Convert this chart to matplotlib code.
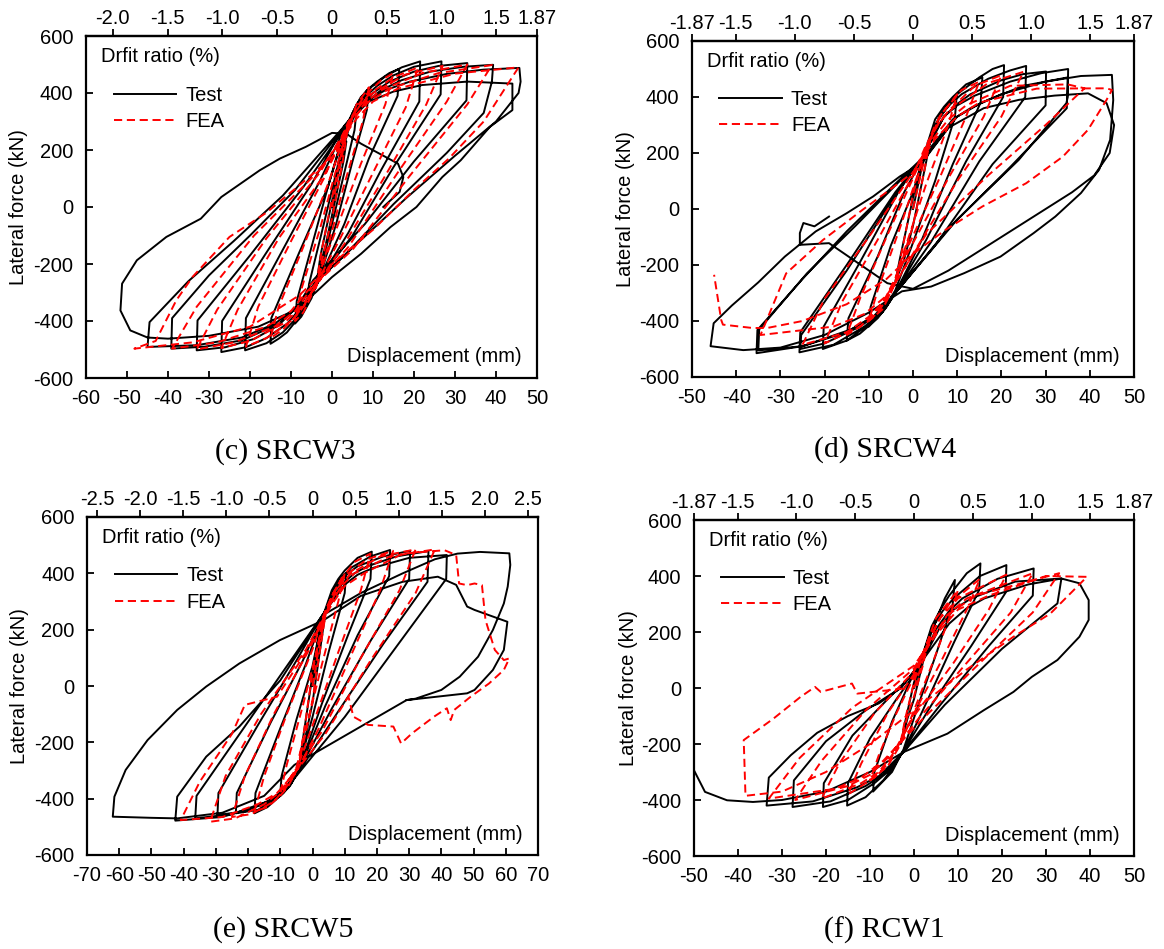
import matplotlib
matplotlib.use('Agg')
import matplotlib.pyplot as plt
from matplotlib.lines import Line2D
import numpy as np

plt.rcParams['font.family'] = ['Liberation Sans', 'DejaVu Sans']
plt.rcParams['axes.unicode_minus'] = False

# ---------------- data (displacement mm, lateral force kN) ----------------
y_ticks = [-600, -400, -200, 0, 200, 400, 600]

c_xticks = [-60, -50, -40, -30, -20, -10, 0, 10, 20, 30, 40, 50]
c_drift = [-2.0, -1.5, -1.0, -0.5, 0, 0.5, 1.0, 1.5, 1.87]
c_drift_labels = ['-2.0', '-1.5', '-1.0', '-0.5', '0', '0.5', '1.0', '1.5', '1.87']

d_xticks = [-50, -40, -30, -20, -10, 0, 10, 20, 30, 40, 50]
d_drift = [-1.87, -1.5, -1.0, -0.5, 0, 0.5, 1.0, 1.5, 1.87]
d_drift_labels = ['-1.87', '-1.5', '-1.0', '-0.5', '0', '0.5', '1.0', '1.5', '1.87']

e_xticks = [-70, -60, -50, -40, -30, -20, -10, 0, 10, 20, 30, 40, 50, 60, 70]
e_drift = [-2.5, -2.0, -1.5, -1.0, -0.5, 0, 0.5, 1.0, 1.5, 2.0, 2.5]
e_drift_labels = ['-2.5', '-2.0', '-1.5', '-1.0', '-0.5', '0', '0.5', '1.0', '1.5', '2.0', '2.5']

f_xticks = d_xticks
f_drift = d_drift
f_drift_labels = d_drift_labels

c_test = [
    (0, 0), (1.5, 120), (3.5, 230), (2.8, 160), (0, -30), (-1.5, -130), (-3.5, -240), (-2.8, -170), (0, 20),
    (2, 170), (4, 270), (6, 340), (5.5, 270), (2, 60), (-1, -120), (-3, -230), (-6, -330), (-5.6, -270), (-2, -60), (1, 120),
    (3, 250), (5, 330), (7, 385), (9, 415), (8.5, 340), (5, 160), (1, -60), (-2, -200), (-5, -320), (-7.5, -385), (-9, -409),
    (-8.6, -330), (-5, -140), (-1, 70), (2, 220),
    (4, 300), (6, 360), (8.5, 410), (11, 440), (14, 470), (16.4, 485), (16, 390), (9, 170), (3, -60), (-3, -250), (-6, -340),
    (-8.5, -395), (-11, -440), (-13, -462), (-15, -480), (-14.8, -390), (-8, -160), (-1, 70), (3, 260),
    (5, 320), (7, 375), (9.5, 420), (13, 458), (17, 490), (21.5, 511), (21.3, 370), (12, 130), (4, -90), (-3, -255), (-6, -330),
    (-9, -395), (-12, -440), (-16, -478), (-21.2, -503), (-21, -390), (-12, -150), (-3, 90), (3, 275),
    (6, 340), (8, 385), (11, 425), (15, 462), (20, 492), (26.7, 511), (26.5, 395), (15, 140), (5, -100), (-3.5, -260),
    (-7, -345), (-11, -410), (-16, -460), (-21, -492), (-27, -509), (-26.8, -400), (-16, -160), (-5, 80), (3, 285),
    (7, 355), (10, 400), (14, 440), (20, 475), (26, 495), (33, 505), (32.8, 374), (20, 160), (8, -60), (-4.6, -257),
    (-8, -340), (-13, -415), (-19, -463), (-26, -492), (-33, -503), (-32.8, -398), (-20, -170), (-7, 70), (4, 295),
    (8, 365), (12, 410), (17, 445), (24, 475), (32, 492), (39.3, 499), (39, 440), (37, 330), (28, 190), (15, 10), (3, -170),
    (-4, -262), (-8, -345), (-13, -410), (-22, -468), (-31, -490), (-39.2, -497), (-39, -390), (-30, -240), (-20, -100),
    (-9, 60), (4, 300),
    (8, 368), (13, 410), (19, 440), (28, 467), (37, 482), (45.7, 488), (46, 440), (45.5, 400), (40, 300), (30, 180), (18, 30),
    (6, -130), (-4, -265), (-8, -345), (-14, -410), (-22, -458), (-33, -485), (-45, -491), (-44.5, -404), (-35, -260),
    (-24, -120), (-12, 40), (4, 300),
    (9, 370), (15, 405), (22, 428), (33, 440), (44, 433), (44, 340), (38.5, 281), (31.4, 164), (26.9, 105), (20.6, 0),
    (14.3, -70), (7.1, -164), (0, -246), (-4, -300), (-9, -362), (-18, -420), (-30, -452), (-40, -462), (-45, -458),
    (-49.2, -433), (-51.6, -363), (-51.2, -269), (-47.6, -187), (-40.4, -105), (-32, -41), (-27, 35), (-21.7, 88),
    (-17.6, 129), (-12.7, 170), (-6.4, 211), (0, 260), (3.5, 257), (7.1, 222), (11.6, 187), (16.1, 152), (17.4, 105),
    (16.5, 53), (12.5, 0),
]

c_fea = [
    (0, 0), (2, 150), (4, 290), (2.5, 150), (0, -40), (-2, -160), (-4, -290), (-2.5, -150), (0, 30),
    (3, 240), (6, 360), (9, 420), (7.5, 300), (3, 80), (-1, -140), (-4, -280), (-7, -370), (-9, -400), (-7.5, -290), (-3, -80), (1, 130),
    (4, 290), (6, 350), (8, 390), (12, 445), (15, 470), (13, 360), (7, 150), (1, -80), (-4, -270), (-6, -330), (-8, -370),
    (-12, -430), (-15, -460), (-13, -350), (-7, -140), (-1, 80),
    (4, 290), (6.5, 350), (9, 395), (15, 455), (21, 490), (18, 350), (10, 120), (2, -110), (-4, -275), (-7, -350),
    (-10, -400), (-16, -460), (-21, -490), (-18, -350), (-10, -120), (-2, 100),
    (4, 300), (7, 360), (10, 400), (18, 465), (27, 495), (23, 360), (13, 110), (3, -130), (-4, -280), (-8, -360),
    (-12, -410), (-20, -470), (-27, -495), (-23, -360), (-13, -110), (-2, 110),
    (5, 300), (8, 365), (12, 410), (22, 470), (33, 500), (28, 370), (16, 120), (4, -140), (-5, -285), (-9, -365),
    (-14, -420), (-24, -475), (-33, -500), (-28, -360), (-16, -110), (-3, 120),
    (5, 310), (9, 370), (14, 415), (26, 470), (39, 498), (33, 360), (19, 110), (5, -150), (-6, -295), (-10, -365),
    (-16, -420), (-28, -475), (-39, -497), (-33, -350), (-19, -100), (-3, 130),
    (6, 310), (10, 370), (16, 415), (30, 468), (45.5, 490), (37, 300), (28.5, 170), (20, 60), (10, -80), (0, -200),
    (-8, -310), (-20, -420), (-34, -475), (-48.2, -497), (-43, -470), (-38, -328), (-34, -245), (-25, -105), (-16, -20),
    (-6, 100), (2, 200),
]

d_test = [
    (0, 0), (2, 150), (4, 250), (3, 170), (0, -60), (-2, -180), (-4, -260), (-3, -180), (0, 40),
    (2, 170), (5, 300), (8, 370), (9.9, 407), (9.5, 330), (5, 100), (0, -120), (-4, -290), (-7, -370), (-10, -420), (-9.6, -350),
    (-5, -130), (0, 60), (2, 170),
    (5, 320), (7, 365), (9, 400), (12, 445), (15.7, 470), (15.3, 380), (9, 160), (2, -110), (-4, -300), (-6, -350), (-8, -390),
    (-12, -445), (-15, -470), (-14.6, -390), (-8, -170), (-2, 60), (2, 175),
    (6, 330), (8, 375), (10, 410), (15, 470), (18, 500), (20.6, 514), (20.4, 400), (12, 170), (3, -110), (-4, -300),
    (-6.5, -360), (-9, -400), (-15, -470), (-20.4, -500), (-20.2, -420), (-12, -190), (-3, 70), (2, 180),
    (6, 330), (8.5, 375), (11, 410), (17, 465), (22, 495), (25.6, 511), (25.4, 400), (15, 170), (4, -120), (-4, -300),
    (-7, -370), (-11, -420), (-18, -485), (-25.7, -512), (-25.5, -440), (-15, -200), (-4, 60), (2, 180),
    (7, 330), (10, 375), (13, 410), (20, 460), (25, 482), (30.1, 491), (30, 370), (18, 160), (5, -130), (-4, -300),
    (-8, -375), (-12, -420), (-20, -480), (-25.5, -500), (-25.3, -450), (-15, -220), (-4, 50), (2, 180),
    (7, 330), (10, 370), (14, 405), (22, 455), (29, 485), (35.1, 500), (35, 400), (34.7, 378), (23.9, 175), (9.9, -39),
    (-4, -300), (-8, -375), (-14, -430), (-25, -490), (-35.4, -515), (-35.2, -432), (-25, -250), (-15, -80), (-4, 90), (2, 180),
    (9, 320), (13, 360), (17, 390), (25, 440), (35, 470), (34.8, 360), (22, 150), (8, -70), (-4, -300), (-9, -385),
    (-15, -440), (-25, -490), (-35, -505), (-34.8, -430), (-24, -230), (-13, -60), (-3, 100), (2, 170),
    (10, 330), (15, 375), (20, 410), (30, 455), (38, 475), (45, 479), (45.3, 389), (44.6, 247), (42.1, 140), (38, 57),
    (32.2, -27), (27.3, -86), (19.8, -170), (11.6, -229), (4.1, -277), (-2.5, -294), (-10, -370), (-20, -450), (-30, -495),
    (-38.4, -504), (-45.8, -490), (-45.1, -408), (-41, -345), (-35, -262), (-29, -170), (-22, -80), (-15, -15), (-9, 45),
    (-3, 116), (2, 165), (8, 290), (16, 360), (24, 390), (32, 405), (39.6, 413), (43.8, 378), (45.5, 300), (44.5, 200),
    (41, 120), (36, 60), (28, -20), (18, -120), (8, -220), (0, -285), (-5.8, -265), (-19, -122), (-25.6, -128),
    (-25.6, -86), (-24.8, -50), (-22.3, -62), (-19, -27),
]

d_fea = [
    (0, 0), (2, 140), (4, 260), (2.5, 130), (0, -60), (-2, -160), (-4, -270), (-2.5, -150), (0, 50),
    (2, 170), (6, 330), (10, 410), (8, 300), (3, 90), (-2, -150), (-5, -300), (-8, -370), (-10, -400), (-8, -290), (-3, -70), (1, 120),
    (3, 220), (5, 300), (7, 350), (11, 425), (15, 455), (12, 330), (6, 110), (-1, -130), (-5, -300), (-7, -360), (-10, -400),
    (-15, -450), (-12, -320), (-6, -100), (0, 110),
    (3, 220), (5.5, 300), (8, 350), (14, 440), (20, 478), (16, 330), (8, 110), (-1, -150), (-6, -310), (-8.5, -370),
    (-12, -420), (-20, -480), (-16, -330), (-8, -110), (0, 120),
    (3, 230), (6, 310), (9, 360), (17, 450), (25, 490), (20, 330), (10, 100), (0, -160), (-6, -320), (-10, -385),
    (-15, -440), (-25, -485), (-20, -320), (-10, -100), (0, 130),
    (4, 240), (8, 320), (12, 370), (22, 440), (35, 445), (38.8, 431), (30, 300), (17, 120), (3, -90), (-6, -310),
    (-11, -375), (-18, -420), (-34.5, -450), (-28.7, -230), (-20.4, -111), (-11.5, -4), (0, 130),
    (5, 250), (10, 330), (15, 380), (28, 430), (43.8, 431), (45, 425), (43.8, 390), (39.6, 283), (33.9, 187), (25.6, 92),
    (15.7, 9), (7.4, -74), (0, -160), (-6, -250), (-15, -340), (-25, -400), (-33, -425), (-36.3, -425), (-43, -413),
    (-43.4, -396), (-45, -235),
]

e_test = [
    (0, 0), (2, 150), (4, 260), (3, 180), (0, -60), (-2, -170), (-4, -270), (-3, -190), (0, 40),
    (2, 180), (5, 300), (8, 370), (10.4, 400), (10, 330), (5, 120), (0, -110), (-4, -280), (-7, -340), (-10, -380), (-9.6, -320),
    (-5, -120), (0, 70), (3, 240),
    (6, 340), (8, 380), (10, 410), (14, 455), (18.4, 477), (18, 380), (11, 180), (3, -60), (-4, -290), (-6.5, -345),
    (-9, -380), (-14, -430), (-18, -452), (-17.7, -380), (-10, -150), (-2, 80), (3, 240),
    (7, 350), (9.5, 390), (12, 420), (18, 460), (24.1, 483), (23.8, 390), (14, 180), (4, -70), (-4, -295), (-7, -355),
    (-10, -390), (-17, -440), (-23.8, -452), (-23.5, -380), (-13, -130), (-3, 90), (3, 245),
    (8, 360), (11, 400), (14, 425), (22, 460), (30.3, 480), (30, 380), (18, 160), (6, -80), (-4, -295), (-8, -365),
    (-12, -400), (-21, -445), (-29.5, -458), (-29.2, -380), (-17, -140), (-5, 90), (3, 250),
    (9, 360), (13, 400), (17, 425), (26, 460), (36, 479), (35.7, 370), (22, 150), (8, -90), (-4, -300), (-9, -370),
    (-14, -410), (-25, -455), (-36.4, -470), (-36, -390), (-22, -160), (-8, 70), (3, 250),
    (10, 360), (14, 395), (19, 420), (30, 455), (41.7, 465), (41.5, 380), (28, 170), (10, -110), (-4, -305), (-9, -375),
    (-15, -420), (-28, -465), (-42.6, -478), (-42, -393), (-33, -251), (-22.7, -144), (-10, 20), (3, 250),
    (15, 330), (28, 400), (38, 450), (45, 470), (52, 476), (61.1, 471), (61.4, 430), (60.6, 353), (59.4, 293), (56, 199),
    (51.4, 104), (45.7, 33), (40, -14), (32, -45), (29.2, -50), (20, -111), (11.5, -167), (3, -223), (-5.6, -280), (-15, -390),
    (-28, -450), (-42, -470), (-50, -468), (-62, -464), (-61.5, -393), (-58, -298), (-51.2, -192), (-42, -85), (-33, -2),
    (-22.7, 80), (-10.1, 163), (3.5, 234), (15, 320), (28, 370), (38.9, 388), (44.6, 359), (48, 282), (50.3, 270), (60.5, 228),
    (59.4, 128), (56, 57), (50.3, -14), (48, -26), (29.2, -50),
]

e_fea = [
    (0, 0), (2, 140), (4, 250), (2.5, 140), (0, -50), (-2, -160), (-4, -260), (-2.5, -150), (0, 50),
    (3, 220), (6, 320), (10, 400), (8, 300), (3, 80), (-2, -150), (-5, -290), (-8, -350), (-10, -380), (-8, -280), (-3, -70), (1, 110),
    (4, 260), (6.5, 330), (9, 380), (13, 440), (18, 470), (15, 340), (8, 120), (0, -140), (-5, -300), (-7.5, -355),
    (-10, -390), (-14, -430), (-18, -445), (-15, -320), (-8, -100), (0, 130),
    (4, 270), (7, 340), (10, 390), (17, 450), (25, 480), (21, 340), (12, 110), (2, -150), (-5, -305), (-8.5, -365),
    (-12, -410), (-19, -455), (-25, -465), (-21, -320), (-12, -100), (-1, 130),
    (5, 280), (8, 350), (12, 400), (21, 460), (32, 485), (27, 340), (15, 100), (3, -160), (-6, -310), (-10, -375),
    (-15, -420), (-24, -470), (-31.8, -482), (-27, -320), (-16, -100), (-2, 130),
    (5, 280), (9, 355), (13, 400), (24, 460), (38, 485), (32, 330), (18, 90), (4, -170), (-6, -315), (-11, -380),
    (-17, -420), (-28, -465), (-40.9, -476), (-35, -340), (-25, -170), (-21, -67), (-11, -38), (-2, 120),
    (6, 290), (10, 355), (16, 400), (28, 470), (41, 482), (44.6, 465), (45.5, 364), (48, 358), (50.3, 364), (52.6, 358),
    (53.7, 234), (56.6, 128), (59.4, 92), (61.1, 98), (59.4, 57), (54.8, 9), (49.1, -38), (44, -85), (42.9, -121),
    (41.7, -79), (37.7, -109), (30.9, -168), (27.5, -204), (25.1, -144), (17.2, -138), (12.7, -109), (11.2, -40),
]

f_test = [
    (0, 0), (1.5, 80), (3, 160), (2, 90), (0, -40), (-1.5, -110), (-3, -200), (-2, -120), (0, 20),
    (2, 110), (4, 200), (7, 320), (9.3, 386), (8.8, 300), (5, 120), (1, -60), (-2.4, -220), (-5, -300), (-9.3, -370), (-9, -300),
    (-5, -120), (-1, 20), (2, 120),
    (4, 220), (6, 280), (8, 330), (12, 410), (15.1, 445), (14.8, 350), (9, 160), (2, -80), (-2.4, -225), (-5, -290),
    (-7, -330), (-11, -390), (-15.2, -420), (-15, -340), (-10, -180), (-4, -40), (1, 70),
    (4, 210), (6.5, 275), (9, 320), (15, 400), (21, 439), (20.8, 340), (13, 150), (4, -60), (-2.4, -225), (-6, -300),
    (-9, -340), (-15, -400), (-20.7, -425), (-20.5, -340), (-14, -170), (-6, -40), (1, 70),
    (5, 210), (8, 275), (11, 320), (19, 390), (27.2, 427), (27, 330), (17, 150), (6, -60), (-2.4, -228), (-7, -310),
    (-11, -350), (-19, -405), (-27.6, -425), (-27.3, -330), (-20, -190), (-11, -80), (-3, 0), (2, 100),
    (6, 220), (9, 280), (13, 320), (23, 380), (33.5, 391), (32.6, 302), (20, 140), (7, -60), (-2.4, -229), (-8, -315),
    (-13, -355), (-23, -405), (-33.5, -420), (-33, -320), (-28, -240), (-22, -160), (-15, -100), (-8, -55), (-3, 0), (2, 100),
    (8, 230), (12, 285), (16, 320), (26, 370), (33.5, 391), (37.6, 374), (39.7, 314), (39.7, 243), (37.6, 183), (32.6, 100),
    (26.8, 40), (22.6, -14), (15.9, -79), (7.6, -163), (-2.4, -229), (-10, -300), (-20, -370), (-30, -400), (-36.6, -407),
    (-42.5, -401), (-47.5, -371), (-50, -294),
]

f_fea = [
    (0, 0), (1.5, 70), (3, 150), (2, 80), (0, -30), (-1.5, -100), (-3, -190), (-2, -110), (0, 20),
    (2, 120), (5, 250), (10, 350), (8, 250), (4, 80), (0, -80), (-3, -200), (-6, -280), (-10, -330), (-8, -240), (-4, -90), (0, 40),
    (3, 150), (5.5, 240), (8, 300), (15, 390), (12, 280), (6, 90), (0, -90), (-4, -220), (-6.5, -280), (-9, -320),
    (-15, -380), (-12, -270), (-6, -90), (0, 50),
    (3, 160), (6, 250), (10, 320), (21, 405), (17, 280), (9, 90), (0, -100), (-5, -240), (-8, -300), (-12, -340),
    (-21, -395), (-17, -270), (-9, -90), (0, 60),
    (4, 170), (7.5, 260), (12, 320), (27, 410), (22, 270), (12, 90), (1, -110), (-6, -250), (-10, -310), (-15, -350),
    (-27, -400), (-21, -260), (-11, -80), (0, 70),
    (4, 180), (8.5, 270), (14, 330), (33, 410), (27, 270), (15, 90), (2, -110), (-7, -260), (-12, -320), (-18, -360),
    (-33, -395), (-26, -250), (-14, -70), (0, 80),
    (5, 190), (10, 280), (17, 330), (30, 400), (39.3, 397), (31, 266), (22.6, 183), (11.8, 64), (0, -80), (-10, -200),
    (-20, -300), (-30, -370), (-38.3, -385), (-38.7, -186), (-32, -110), (-25.8, -32), (-22.5, 4), (-21.2, -14),
    (-14.1, 16), (-12.9, -20), (-5.8, -8), (-2.4, -2),
]

MM_PER_PCT = 50.0 / 1.87  # displacement (mm) per 1 % drift

W, H = 1164, 949
fig = plt.figure(figsize=(W / 100, H / 100), dpi=100)

panels = [
    dict(box=(86, 36, 537, 378), xlim=(-60, 50), xticks=c_xticks, drift=c_drift, dlabels=c_drift_labels,
         test=c_test, fea=c_fea, cap='(c) SRCW3', cap_xy=(285, 452)),
    dict(box=(692, 41, 1134, 377), xlim=(-50, 50), xticks=d_xticks, drift=d_drift, dlabels=d_drift_labels,
         test=d_test, fea=d_fea, cap='(d) SRCW4', cap_xy=(885, 450)),
    dict(box=(87, 517, 538, 855), xlim=(-70, 70), xticks=e_xticks, drift=e_drift, dlabels=e_drift_labels,
         test=e_test, fea=e_fea, cap='(e) SRCW5', cap_xy=(283, 930)),
    dict(box=(694, 520, 1134, 856), xlim=(-50, 50), xticks=f_xticks, drift=f_drift, dlabels=f_drift_labels,
         test=f_test, fea=f_fea, cap='(f) RCW1', cap_xy=(884, 930)),
]

FS = 14.5
TFS = 14.5
dash = (0, (4.2, 2.4))
LW = 1.4

for p in panels:
    l, t, r, b = p['box']
    ax = fig.add_axes([l / W, 1 - b / H, (r - l) / W, (b - t) / H])
    tx, ty = np.array(p['test'], dtype=float).T
    fx, fy = np.array(p['fea'], dtype=float).T
    ax.plot(tx, ty, color='black', lw=LW, solid_joinstyle='round', zorder=2)
    ax.plot(fx, fy, color='#ff0000', lw=LW, linestyle=dash, zorder=3)

    ax.set_xlim(*p['xlim'])
    ax.set_ylim(-600, 600)
    ax.set_xticks(p['xticks'])
    ax.set_yticks(y_ticks)
    ax.tick_params(axis='both', direction='in', length=5, width=1.3, labelsize=FS)
    ax.tick_params(axis='x', pad=8)
    ax.tick_params(axis='y', pad=9)
    for s in ax.spines.values():
        s.set_linewidth(1.6)
    ax.set_ylabel('Lateral force (kN)', fontsize=TFS)
    ax.yaxis.set_label_coords(-0.128, 0.5)

    sec = ax.secondary_xaxis('top', functions=(lambda x: x / MM_PER_PCT, lambda d: d * MM_PER_PCT))
    sec.set_xticks(p['drift'], labels=p['dlabels'])
    sec.tick_params(direction='out', length=5, width=1.3, labelsize=FS, pad=1)
    sec.spines['top'].set_linewidth(1.6)

    ax.text(0.033, 0.94, 'Drfit ratio (%)', transform=ax.transAxes, fontsize=TFS, ha='left', va='center')
    ax.text(0.967, 0.062, 'Displacement (mm)', transform=ax.transAxes, fontsize=TFS, ha='right', va='center')

    handles = [Line2D([], [], color='black', lw=LW),
               Line2D([], [], color='#ff0000', lw=LW, linestyle=dash)]
    ax.legend(handles, ['Test', 'FEA'], loc='upper left', bbox_to_anchor=(0.062, 0.855), frameon=False,
              fontsize=TFS, handlelength=3.1, handletextpad=0.45, labelspacing=0.38, borderpad=0, borderaxespad=0)

    cx, cy = p['cap_xy']
    fig.text(cx / W, 1 - cy / H, p['cap'], fontsize=21.5, family=['Liberation Serif', 'DejaVu Serif'],
             ha='center', va='center')

fig.savefig('out.png', dpi=100)
